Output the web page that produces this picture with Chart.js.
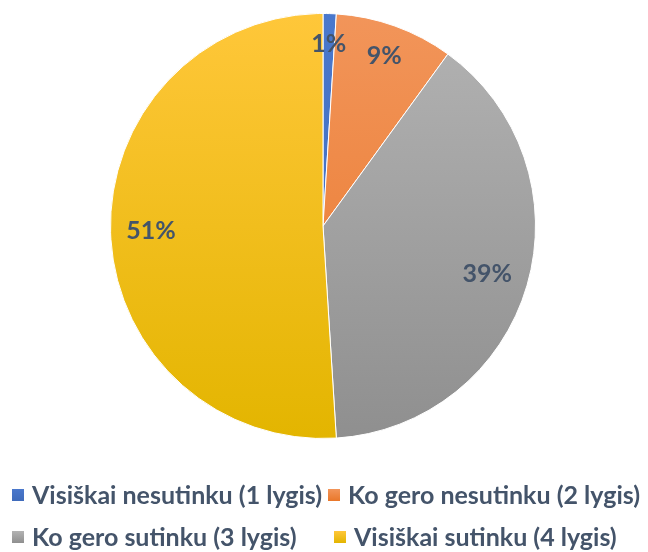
<!DOCTYPE html>
<html><head><meta charset="utf-8">
<script src="https://cdn.jsdelivr.net/npm/chart.js@4"></script>
<style>html,body{margin:0;padding:0;background:#fff}#wrap{width:648px;height:552px}</style>
</head><body><div id="wrap"><canvas id="c" width="648" height="552"></canvas></div>
<script>
const categories = ['Visiškai nesutinku (1 lygis)', 'Ko gero nesutinku (2 lygis)', 'Ko gero sutinku (3 lygis)', 'Visiškai sutinku (4 lygis)'];
const values = [1, 9, 39, 51];
const valueLabels = ['1%', '9%', '39%', '51%'];

const topColors = ['#4a78cc', '#f2955a', '#b3b3b3', '#ffc73a'];
const bottomColors = ['#3f6bbb', '#e9772a', '#8f8f8f', '#e3b500'];
const legendColors = ['#4472c4', '#ed7d31', '#a5a5a5', '#ffc000'];
const labelRadius = [0.855, 0.85, 0.805, 0.81];
const textColor = '#44546a';
const FONT = 'Lato, "Open Sans", sans-serif';

function grad(ctx, i) {
  const chart = ctx.chart;
  const a = chart.chartArea;
  if (!a) return legendColors[i];
  const g = chart.ctx.createLinearGradient(0, a.top, 0, a.bottom);
  g.addColorStop(0, topColors[i]);
  g.addColorStop(1, bottomColors[i]);
  return g;
}

const labelPlugin = {
  id: 'sliceLabels',
  afterDatasetsDraw(chart) {
    const ctx = chart.ctx;
    const meta = chart.getDatasetMeta(0);
    ctx.save();
    ctx.font = 'bold 25px ' + FONT;
    ctx.fillStyle = textColor;
    ctx.textAlign = 'center';
    ctx.textBaseline = 'middle';
    meta.data.forEach((arc, i) => {
      const p = arc.getProps(['x', 'y', 'startAngle', 'endAngle', 'outerRadius'], true);
      const mid = (p.startAngle + p.endAngle) / 2;
      const r = p.outerRadius * labelRadius[i];
      ctx.fillText(valueLabels[i], p.x + Math.cos(mid) * r, p.y + Math.sin(mid) * r);
    });
    ctx.restore();
  }
};

const legendPlugin = {
  id: 'gridLegend',
  afterDraw(chart) {
    const ctx = chart.ctx;
    const pos = [[12, 495], [328, 495], [12, 537], [334, 537]];
    ctx.save();
    ctx.font = 'bold 25px ' + FONT;
    ctx.textBaseline = 'middle';
    ctx.textAlign = 'left';
    chart.data.labels.forEach((lab, i) => {
      const [x, y] = pos[i];
      const g = ctx.createLinearGradient(0, y - 6, 0, y + 6);
      g.addColorStop(0, topColors[i]);
      g.addColorStop(1, bottomColors[i]);
      ctx.fillStyle = g;
      ctx.fillRect(x, y - 6, 12, 12);
      ctx.fillStyle = textColor;
      ctx.fillText(lab, x + 20, y + 1);
    });
    ctx.restore();
  }
};

new Chart(document.getElementById('c'), {
  type: 'pie',
  data: {
    labels: categories,
    datasets: [{
      data: values,
      backgroundColor: (ctx) => grad(ctx, ctx.dataIndex),
      borderColor: '#ffffff',
      borderWidth: 1
    }]
  },
  options: {
    responsive: false,
    animation: false,
    layout: { padding: { top: 13, bottom: 113, left: 110, right: 112 } },
    plugins: { legend: { display: false }, tooltip: { enabled: false } }
  },
  plugins: [labelPlugin, legendPlugin]
});
</script></body></html>
